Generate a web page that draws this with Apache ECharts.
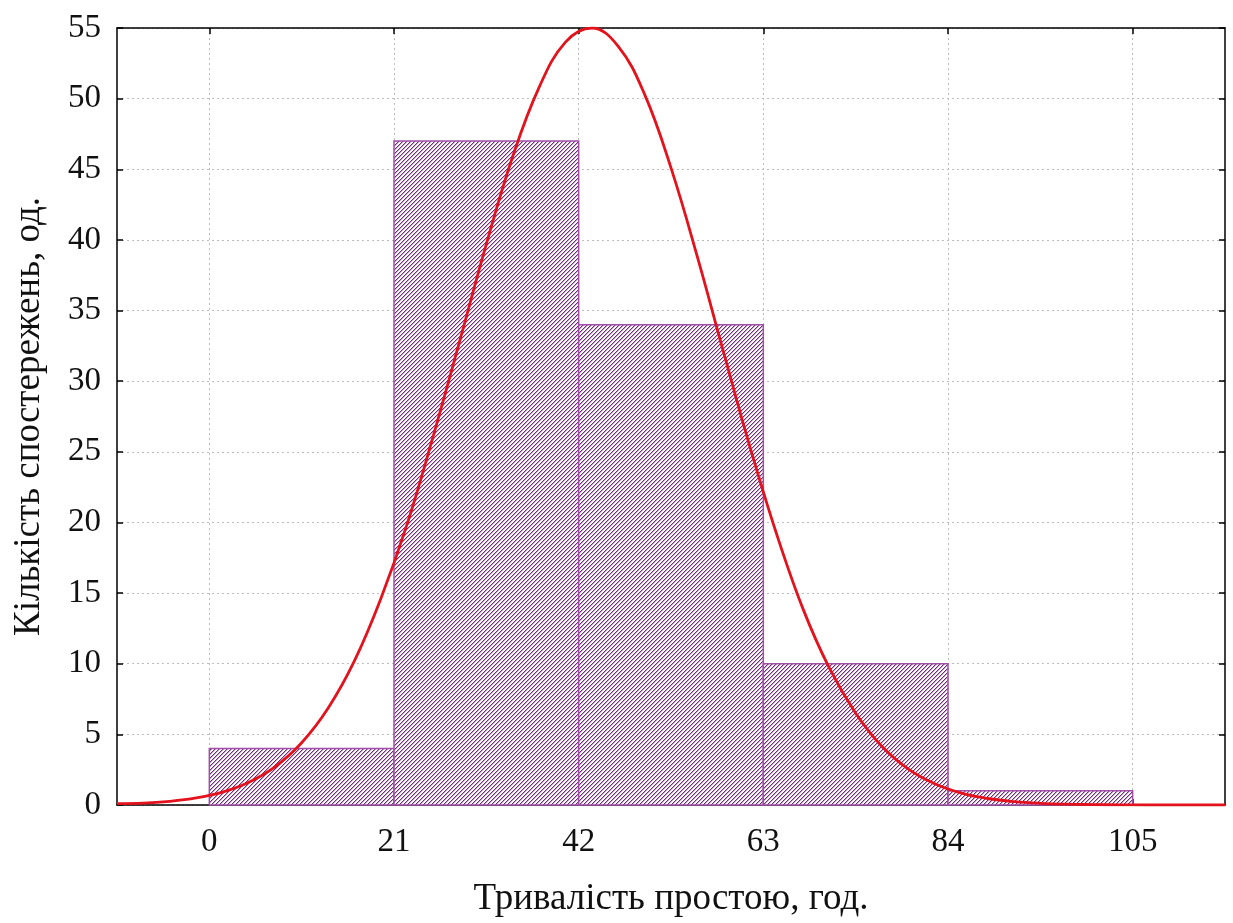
<!DOCTYPE html>
<html>
<head>
<meta charset="utf-8">
<script src="https://cdn.jsdelivr.net/npm/echarts@6/dist/echarts.min.js"></script>
<style>
html,body{margin:0;padding:0;background:#fff;}
#chart{width:1233px;height:923px;}
</style>
</head>
<body>
<div id="chart"></div>
<script>
// ---- data ----
var binStart = [0, 21, 42, 63, 84];
var binEnd = [21, 42, 63, 84, 105];
var counts = [4, 47, 34, 10, 1];
var xTicks = [0, 21, 42, 63, 84, 105];
var curveX = [-10.5, -7.5, -4.5, -1.5, 1.5, 4.5, 7.5, 10.5, 13.5, 16.5, 19.5, 22.5, 25.5, 28.5, 31.5, 34.5, 37.5, 40.5, 43.5, 46.5, 49.5, 52.5, 55.5, 58.5, 61.5, 64.5, 67.5, 70.5, 73.5, 76.5, 79.5, 82.5, 85.5, 88.5, 91.5, 94.5, 97.5, 100.5, 103.5, 106.5, 109.5, 112.5, 115.5];
var curveY = [0.1, 0.13, 0.26, 0.5, 0.91, 1.61, 2.72, 4.41, 6.85, 10.2, 14.6, 19.9, 26.2, 32.9, 39.7, 45.9, 50.8, 54.0, 55.0, 53.7, 50.3, 45.1, 38.8, 32.0, 25.3, 19.2, 13.9, 9.7, 6.5, 4.14, 2.54, 1.5, 0.84, 0.46, 0.24, 0.12, 0.06, 0.03, 0.01, 0, 0, 0, 0];
var xTitle = 'Тривалість простою, год.';
var yTitle = 'Кількість спостережень, од.';

// hatch pattern: crisp 1px diagonal every 4px, with a faint second pixel
var pc = document.createElement('canvas');
pc.width = 4; pc.height = 4;
var g = pc.getContext('2d');
g.fillStyle = '#ffffff'; g.fillRect(0, 0, 4, 4);
for (var i = 0; i < 4; i++) {
  g.fillStyle = '#6f2a7a';
  g.fillRect(i, 3 - i, 1, 1);
  g.fillStyle = '#c8a6cd';
  g.fillRect((i + 1) % 4, 3 - i, 1, 1);
}

var histData = binStart.map(function (s, i) { return [s, binEnd[i], counts[i]]; });
var curveData = curveX.map(function (x, i) { return [x, curveY[i]]; });

var font = '"Liberation Serif", "Times New Roman", serif';
var chart = echarts.init(document.getElementById('chart'));
chart.setOption({
  animation: false,
  backgroundColor: '#ffffff',
  grid: { left: 117, right: 8, top: 28, bottom: 115, containLabel: false },
  xAxis: [{
    type: 'value', min: -10.5, max: 115.5, position: 'bottom',
    axisLine: { show: true, onZero: false, lineStyle: { color: '#000', width: 1.5 } },
    axisTick: { show: true, inside: true, length: 6, customValues: xTicks, lineStyle: { color: '#000', width: 1.5 } },
    axisLabel: { customValues: xTicks, fontFamily: font, fontSize: 33, color: '#111', margin: 21 },
    splitLine: { show: true, lineStyle: { color: '#bdbdbd', type: [2, 3], width: 1 } },
    name: xTitle, nameLocation: 'middle', nameGap: 76,
    nameTextStyle: { fontFamily: font, fontSize: 37, color: '#111' }
  }, {
    type: 'value', min: -10.5, max: 115.5, position: 'top',
    axisLine: { show: true, onZero: false, lineStyle: { color: '#000', width: 1.5 } },
    axisTick: { show: true, inside: true, length: 6, customValues: xTicks, lineStyle: { color: '#000', width: 1.5 } },
    axisLabel: { show: false }, splitLine: { show: false }
  }],
  yAxis: [{
    type: 'value', min: 0, max: 55, interval: 5, position: 'left',
    axisLine: { show: true, onZero: false, lineStyle: { color: '#000', width: 1.5 } },
    axisTick: { show: true, inside: true, length: 6, lineStyle: { color: '#000', width: 1.5 } },
    axisLabel: { fontFamily: font, fontSize: 33, color: '#111', margin: 16 },
    splitLine: { show: true, lineStyle: { color: '#bdbdbd', type: [2, 3], width: 1 } },
    name: yTitle, nameLocation: 'middle', nameGap: 69, nameRotate: 90,
    nameTextStyle: { fontFamily: font, fontSize: 37, color: '#111' }
  }, {
    type: 'value', min: 0, max: 55, interval: 5, position: 'right',
    axisLine: { show: true, onZero: false, lineStyle: { color: '#000', width: 1.5 } },
    axisTick: { show: true, inside: true, length: 6, lineStyle: { color: '#000', width: 1.5 } },
    axisLabel: { show: false }, splitLine: { show: false }
  }],
  series: [{
    type: 'custom',
    xAxisIndex: 0, yAxisIndex: 0,
    data: histData,
    renderItem: function (params, api) {
      var p0 = api.coord([api.value(0), api.value(2)]);
      var p1 = api.coord([api.value(1), 0]);
      return {
        type: 'rect',
        shape: { x: p0[0], y: p0[1], width: p1[0] - p0[0], height: p1[1] - p0[1] },
        style: { fill: { image: pc, repeat: 'repeat' }, stroke: '#a04fa6', lineWidth: 1.5 }
      };
    },
    z: 2
  }, {
    type: 'line',
    xAxisIndex: 0, yAxisIndex: 0,
    data: curveData,
    smooth: 0.4,
    showSymbol: false,
    clip: true,
    lineStyle: { color: '#e3121c', width: 2.8 },
    z: 3
  }]
});
</script>
</body>
</html>
